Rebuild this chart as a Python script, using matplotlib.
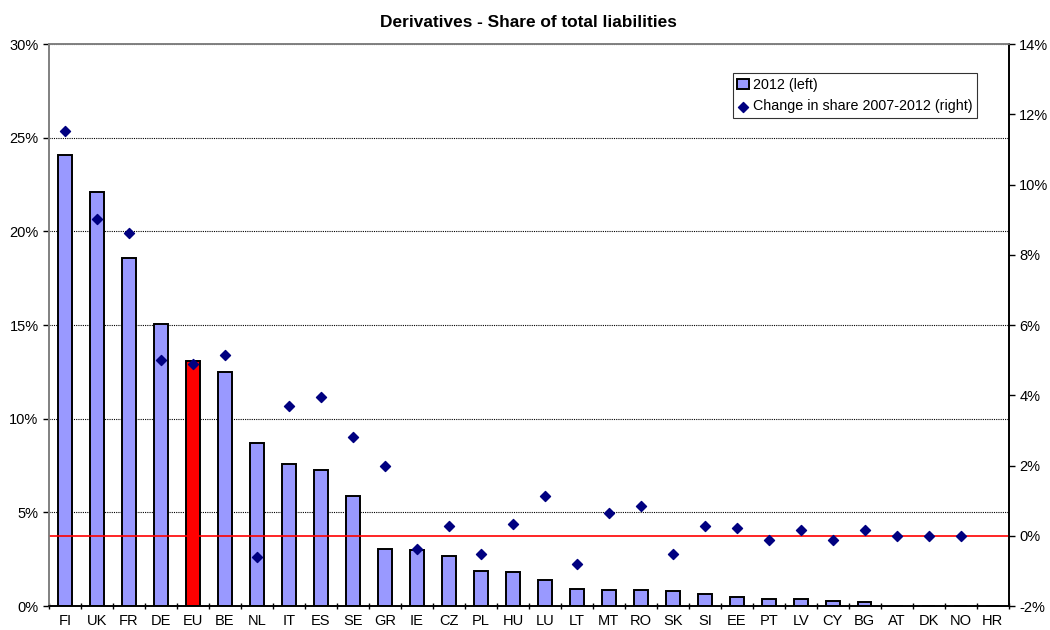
import matplotlib.pyplot as plt
import numpy as np
from matplotlib.ticker import FuncFormatter, MultipleLocator, FixedLocator

plt.rcParams['font.family'] = ['Liberation Sans', 'DejaVu Sans']

countries = ['FI', 'UK', 'FR', 'DE', 'EU', 'BE', 'NL', 'IT', 'ES', 'SE',
             'GR', 'IE', 'CZ', 'PL', 'HU', 'LU', 'LT', 'MT', 'RO', 'SK',
             'SI', 'EE', 'PT', 'LV', 'CY', 'BG', 'AT', 'DK', 'NO', 'HR']
share_2012 = [24.1, 22.1, 18.58, 15.05, 13.09, 12.51, 8.72, 7.57, 7.27, 5.86,
              3.04, 2.99, 2.69, 1.86, 1.82, 1.39, 0.92, 0.88, 0.88, 0.81,
              0.64, 0.47, 0.36, 0.36, 0.26, 0.21, 0.0, 0.0, 0.0, 0.0]
change_07_12 = [11.54, 9.03, 8.61, 5.0, 4.9, 5.16, -0.6, 3.7, 3.94, 2.82,
                1.99, -0.37, 0.27, -0.51, 0.35, 1.14, -0.81, 0.65, 0.84, -0.51,
                0.27, 0.23, -0.13, 0.17, -0.13, 0.17, 0.0, 0.0, 0.0, np.nan]

x = np.arange(len(countries))
colors = ['#ff0000' if c == 'EU' else '#9999ff' for c in countries]

fig = plt.figure(figsize=(10.5, 6.3), dpi=100)
ax = fig.add_axes([0.0467, 0.038, 0.914, 0.892])
ax2 = ax.twinx()

ax.bar(x, share_2012, width=0.42, color=colors, edgecolor='black',
       linewidth=1.4, zorder=3, label='2012 (left)')
ax.set_ylim(0, 30)
ax.set_xlim(-0.5, len(countries) - 0.5)
ax.yaxis.set_major_locator(MultipleLocator(5))
ax.yaxis.set_major_formatter(FuncFormatter(lambda v, p: f'{v:.0f}%'))
ax.grid(axis='y', color='black', linestyle=(0, (1, 1)), linewidth=0.8, zorder=0)
ax.set_xticks(x)
ax.set_xticklabels(countries)
ax.xaxis.set_minor_locator(FixedLocator(np.arange(-0.5, len(countries), 1)))
ax.tick_params(axis='x', which='major', length=0, pad=6, labelsize=10.5)
ax.tick_params(axis='x', which='minor', length=5, direction='inout', width=1)
ax.tick_params(axis='y', length=4, width=1, labelsize=10.5)

ax2.axhline(0, color='#ff0000', linewidth=1.2, zorder=1)
ax2.scatter(x, change_07_12, marker='D', s=26, color='#000080', zorder=4,
            label='Change in share 2007-2012 (right)')
ax2.set_ylim(-2, 14)
ax2.yaxis.set_major_locator(MultipleLocator(2))
ax2.yaxis.set_major_formatter(FuncFormatter(lambda v, p: f'{v:.0f}%'))
ax2.tick_params(axis='y', length=4, width=1, labelsize=10.5)

for a in (ax, ax2):
    a.spines['top'].set_color('#808080')
    a.spines['left'].set_color('#808080')
    a.spines['right'].set_color('black')
    a.spines['bottom'].set_color('black')
    for s in a.spines.values():
        s.set_linewidth(1.2)

ax.set_title('Derivatives - Share of total liabilities', fontsize=12.4,
             fontweight='bold', pad=12)

h1, l1 = ax.get_legend_handles_labels()
h2, l2 = ax2.get_legend_handles_labels()
leg = ax2.legend(h1 + h2, l1 + l2, loc='upper left',
                 bbox_to_anchor=(0.7125, 0.948), fontsize=10.3, frameon=True,
                 fancybox=False, edgecolor='black', handlelength=0.8,
                 handletextpad=0.3, borderpad=0.3, labelspacing=0.55,
                 borderaxespad=0)
leg.get_frame().set_linewidth(0.8)

fig.savefig('out.png', dpi=100)
